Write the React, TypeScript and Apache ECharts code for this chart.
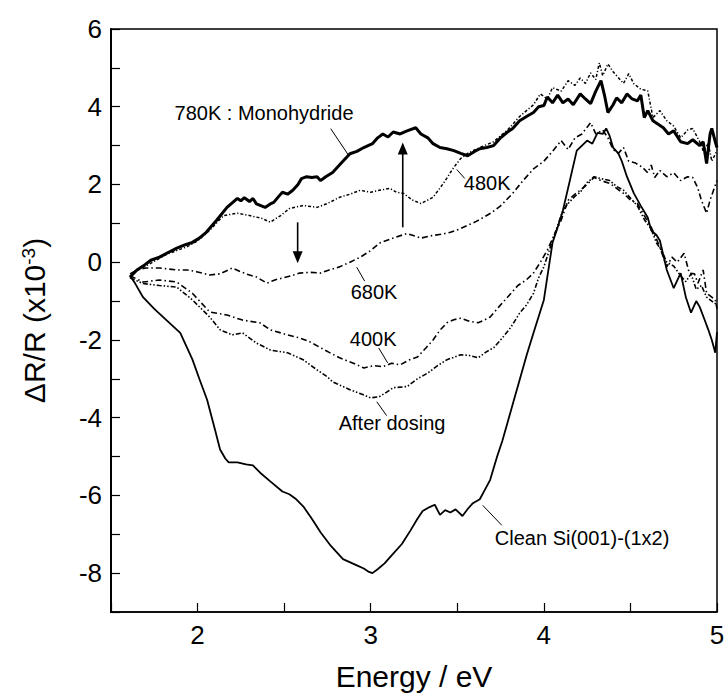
import React, { useEffect, useRef } from "react";
import * as echarts from "echarts";

const cleanSi: number[][] = [[1.61,-0.35],[1.64,-0.55],[1.685,-0.9],[1.75,-1.2],[1.82,-1.49],[1.9,-1.82],[1.97,-2.5],[2.01,-3.0],[2.055,-3.54],[2.1,-4.3],[2.13,-4.82],[2.16,-5.05],[2.18,-5.15],[2.23,-5.15],[2.28,-5.2],[2.32,-5.23],[2.37,-5.45],[2.42,-5.64],[2.49,-5.9],[2.53,-5.97],[2.57,-6.1],[2.61,-6.28],[2.66,-6.6],[2.71,-6.95],[2.77,-7.3],[2.84,-7.64],[2.92,-7.8],[2.96,-7.88],[2.99,-7.97],[3.01,-8.0],[3.04,-7.9],[3.08,-7.75],[3.13,-7.5],[3.18,-7.25],[3.23,-6.9],[3.27,-6.6],[3.3,-6.4],[3.34,-6.3],[3.37,-6.24],[3.4,-6.5],[3.43,-6.38],[3.46,-6.44],[3.49,-6.36],[3.53,-6.53],[3.56,-6.35],[3.59,-6.2],[3.63,-6.1],[3.66,-5.85],[3.69,-5.6],[3.73,-5.0],[3.76,-4.6],[3.79,-4.13],[3.83,-3.5],[3.86,-3.03],[3.9,-2.4],[3.94,-1.82],[4.0,-0.97],[4.05,0.5],[4.08,0.9],[4.11,1.33],[4.15,2.1],[4.19,2.87],[4.22,3.0],[4.25,3.13],[4.28,3.05],[4.31,3.33],[4.34,3.3],[4.36,3.44],[4.38,3.25],[4.4,2.95],[4.43,2.8],[4.45,2.6],[4.48,2.2],[4.52,1.77],[4.56,1.45],[4.6,1.15],[4.62,0.82],[4.65,0.7],[4.67,0.56],[4.71,-0.2],[4.75,-0.67],[4.79,-0.28],[4.82,-0.9],[4.85,-1.3],[4.88,-1.0],[4.9,-1.15],[4.93,-1.5],[4.95,-1.74],[4.97,-2.0],[4.99,-2.33],[5.0,-1.8]];

const mono780K: number[][] = [[1.61,-0.38],[1.65,-0.2],[1.685,-0.1],[1.73,0.05],[1.78,0.13],[1.83,0.25],[1.88,0.36],[1.93,0.45],[1.97,0.51],[2.01,0.62],[2.05,0.77],[2.11,1.08],[2.17,1.41],[2.23,1.64],[2.25,1.58],[2.27,1.66],[2.3,1.56],[2.32,1.64],[2.34,1.5],[2.39,1.41],[2.42,1.5],[2.44,1.54],[2.47,1.7],[2.49,1.8],[2.52,1.75],[2.55,1.85],[2.58,2.0],[2.6,2.15],[2.63,2.2],[2.66,2.18],[2.69,2.2],[2.71,2.1],[2.74,2.2],[2.78,2.31],[2.83,2.55],[2.88,2.79],[2.92,2.85],[2.96,2.95],[3.01,3.05],[3.04,3.2],[3.07,3.3],[3.1,3.22],[3.13,3.35],[3.17,3.3],[3.21,3.38],[3.26,3.46],[3.29,3.3],[3.33,3.2],[3.36,3.05],[3.4,2.95],[3.44,2.92],[3.48,2.87],[3.52,2.8],[3.56,2.74],[3.6,2.85],[3.63,2.92],[3.67,2.95],[3.71,3.0],[3.75,3.2],[3.79,3.35],[3.82,3.44],[3.86,3.64],[3.9,3.75],[3.94,3.85],[3.97,4.0],[4.0,4.03],[4.02,4.25],[4.05,4.1],[4.08,4.3],[4.11,4.1],[4.14,4.2],[4.17,4.05],[4.21,4.33],[4.24,4.2],[4.27,4.08],[4.3,4.4],[4.33,4.67],[4.35,4.3],[4.37,3.85],[4.4,4.05],[4.42,4.23],[4.45,4.1],[4.48,4.33],[4.51,4.2],[4.54,4.15],[4.56,4.3],[4.58,3.72],[4.6,3.9],[4.63,3.64],[4.66,3.55],[4.69,3.46],[4.72,3.3],[4.75,3.38],[4.79,3.1],[4.83,3.05],[4.86,3.15],[4.9,3.0],[4.92,3.1],[4.94,2.54],[4.96,3.3],[4.97,3.44],[4.99,3.1],[5.0,2.95]];

const anneal480K: number[][] = [[1.61,-0.4],[1.65,-0.2],[1.7,-0.1],[1.76,0.05],[1.82,0.2],[1.88,0.3],[1.94,0.4],[2.0,0.55],[2.07,0.82],[2.15,1.2],[2.23,1.26],[2.3,1.2],[2.37,1.13],[2.42,1.03],[2.48,1.2],[2.53,1.38],[2.61,1.46],[2.69,1.41],[2.75,1.51],[2.82,1.67],[2.88,1.75],[2.94,1.85],[3.0,1.8],[3.05,1.85],[3.11,1.9],[3.15,1.8],[3.19,1.77],[3.24,1.6],[3.29,1.51],[3.33,1.6],[3.36,1.67],[3.42,2.03],[3.48,2.44],[3.52,2.67],[3.56,2.8],[3.63,2.95],[3.71,3.1],[3.79,3.4],[3.86,3.75],[3.94,4.05],[3.98,4.33],[4.02,4.2],[4.05,4.49],[4.1,4.4],[4.14,4.67],[4.18,4.55],[4.21,4.74],[4.24,4.6],[4.27,4.87],[4.3,4.7],[4.32,5.13],[4.34,4.8],[4.37,5.1],[4.4,4.9],[4.42,4.8],[4.46,4.6],[4.49,4.85],[4.52,4.59],[4.56,4.45],[4.6,4.41],[4.63,3.72],[4.67,3.9],[4.71,3.64],[4.75,3.5],[4.79,3.2],[4.83,3.4],[4.86,3.44],[4.9,3.1],[4.92,2.87],[4.95,3.05],[4.97,2.6],[5.0,2.87]];

const anneal680K: number[][] = [[1.61,-0.3],[1.65,-0.2],[1.7,-0.15],[1.78,-0.15],[1.88,-0.2],[1.94,-0.2],[2.0,-0.25],[2.07,-0.33],[2.13,-0.3],[2.2,-0.15],[2.25,-0.25],[2.3,-0.33],[2.34,-0.38],[2.4,-0.54],[2.45,-0.45],[2.49,-0.41],[2.54,-0.35],[2.59,-0.28],[2.65,-0.26],[2.71,-0.28],[2.76,-0.2],[2.82,-0.12],[2.88,0.0],[2.94,0.13],[3.0,0.3],[3.05,0.49],[3.13,0.62],[3.21,0.74],[3.25,0.68],[3.29,0.62],[3.36,0.69],[3.41,0.72],[3.46,0.77],[3.51,0.85],[3.56,0.95],[3.61,1.05],[3.65,1.15],[3.7,1.28],[3.75,1.45],[3.82,1.77],[3.88,2.1],[3.94,2.4],[4.0,2.6],[4.05,2.85],[4.1,3.13],[4.14,2.9],[4.18,3.2],[4.22,3.3],[4.27,3.59],[4.3,3.3],[4.34,3.4],[4.37,3.2],[4.4,2.9],[4.43,2.8],[4.46,2.95],[4.49,2.6],[4.53,2.55],[4.57,2.44],[4.6,2.3],[4.62,2.5],[4.64,2.18],[4.67,2.36],[4.71,2.2],[4.75,2.3],[4.79,2.1],[4.83,2.2],[4.86,2.18],[4.89,1.9],[4.91,1.59],[4.94,1.26],[4.96,1.6],[4.98,1.85],[5.0,2.1]];

const anneal400K: number[][] = [[1.61,-0.35],[1.685,-0.51],[1.78,-0.46],[1.88,-0.51],[1.97,-0.8],[2.07,-1.28],[2.17,-1.36],[2.26,-1.49],[2.36,-1.56],[2.42,-1.74],[2.52,-1.87],[2.59,-1.95],[2.65,-2.05],[2.71,-2.2],[2.76,-2.32],[2.82,-2.46],[2.9,-2.6],[2.96,-2.72],[3.02,-2.66],[3.07,-2.69],[3.12,-2.6],[3.17,-2.64],[3.22,-2.52],[3.27,-2.44],[3.32,-2.2],[3.36,-2.0],[3.4,-1.75],[3.44,-1.56],[3.48,-1.48],[3.52,-1.44],[3.57,-1.52],[3.62,-1.56],[3.66,-1.48],[3.69,-1.41],[3.74,-1.15],[3.79,-0.9],[3.85,-0.6],[3.9,-0.45],[3.94,-0.28],[3.98,0.0],[4.02,0.31],[4.06,0.7],[4.1,1.08],[4.14,1.59],[4.18,1.75],[4.21,1.85],[4.25,2.0],[4.29,2.18],[4.33,2.1],[4.38,2.03],[4.42,1.9],[4.46,1.77],[4.5,1.6],[4.54,1.51],[4.58,1.2],[4.62,0.9],[4.65,0.6],[4.67,0.38],[4.71,-0.12],[4.74,0.13],[4.77,0.0],[4.81,0.23],[4.84,-0.28],[4.87,-0.3],[4.89,-0.54],[4.92,-0.2],[4.94,-0.8],[4.97,-0.9],[4.99,-0.97],[5.0,-1.2]];

const afterDosing: number[][] = [[1.61,-0.4],[1.685,-0.55],[1.78,-0.6],[1.88,-0.64],[1.97,-0.97],[2.07,-1.41],[2.13,-1.74],[2.2,-1.87],[2.26,-1.82],[2.34,-2.08],[2.42,-2.26],[2.52,-2.33],[2.61,-2.51],[2.69,-2.77],[2.75,-2.95],[2.78,-3.08],[2.88,-3.28],[2.95,-3.4],[3.0,-3.49],[3.05,-3.46],[3.09,-3.35],[3.13,-3.23],[3.21,-3.2],[3.27,-3.0],[3.33,-2.85],[3.39,-2.65],[3.44,-2.51],[3.52,-2.38],[3.57,-2.4],[3.62,-2.46],[3.67,-2.3],[3.71,-2.2],[3.76,-1.95],[3.81,-1.67],[3.86,-1.31],[3.9,-1.1],[3.94,-0.8],[3.97,-0.4],[4.0,-0.12],[4.05,0.56],[4.08,0.95],[4.11,1.33],[4.14,1.51],[4.18,1.7],[4.21,1.8],[4.25,2.05],[4.29,2.2],[4.33,2.15],[4.38,2.1],[4.42,1.95],[4.46,1.85],[4.5,1.65],[4.54,1.45],[4.58,1.1],[4.62,0.85],[4.65,0.5],[4.68,0.3],[4.71,0.0],[4.75,-0.1],[4.79,-0.35],[4.82,-0.5],[4.85,-0.3],[4.88,-0.7],[4.91,-0.6],[4.94,-0.9],[4.97,-1.0],[5.0,-1.1]];

const xTickLabels = ["2", "3", "4", "5"];
const yTickLabels = ["-8", "-6", "-4", "-2", "0", "2", "4", "6"];

// annotation texts: [label, E, value] (left-middle anchor, data coords)
const labels: [string, number, number][] = [
  ["780K : Monohydride", 1.867, 3.85],
  ["480K", 3.538, 2.05],
  ["680K", 2.884, -0.77],
  ["400K", 2.879, -1.97],
  ["After dosing", 2.815, -4.13],
  ["Clean Si(001)-(1x2)", 3.717, -7.1],
];
// leader lines: [E1, v1, E2, v2]
const leaders: number[][] = [
  [2.769, 3.436, 2.873, 2.744],
  [3.497, 2.385, 3.543, 2.154],
  [2.919, -0.128, 2.965, -0.487],
  [3.046, -2.205, 3.098, -2.59],
  [3.035, -3.59, 3.092, -3.949],
  [3.647, -6.256, 3.757, -6.769],
];
// arrows: [E, vFrom, vTip]
const arrows: number[][] = [
  [2.578, 1.026, -0.026],
  [3.185, 0.897, 3.077],
];

const FONT = "'Liberation Sans', Arial, Helvetica, sans-serif";

export default function App() {
  const ref = useRef<HTMLDivElement>(null);
  useEffect(() => {
    if (!ref.current) return;
    const chart = echarts.init(ref.current, undefined, { renderer: "svg" });
    const mk = (name: string, data: number[][], width: number, type: any) => ({
      name,
      type: "line",
      data,
      showSymbol: false,
      symbol: "none",
      smooth: false,
      lineStyle: { color: "#000", width, type },
      z: 3,
    });
    chart.setOption({
      animation: false,
      backgroundColor: "#fff",
      grid: { left: 111, right: 11, top: 29, bottom: 83, show: true, borderColor: "#000", borderWidth: 1.5, containLabel: false },
      xAxis: {
        type: "value",
        min: 1.5,
        max: 5,
        interval: 0.5,
        name: "Energy / eV",
        nameLocation: "middle",
        nameGap: 49,
        nameTextStyle: { fontFamily: FONT, fontSize: 30, color: "#000" },
        axisLine: { show: true, onZero: false, lineStyle: { color: "#000", width: 1.5 } },
        axisTick: { show: true, inside: true, length: 9, lineStyle: { color: "#000", width: 1.2 } },
        axisLabel: {
          fontFamily: FONT, fontSize: 26, color: "#000", margin: 10,
          formatter: (v: number) => (xTickLabels.includes(String(v)) ? String(v) : ""),
        },
        splitLine: { show: false },
      },
      yAxis: {
        type: "value",
        min: -9,
        max: 6,
        interval: 1,
        axisLine: { show: true, onZero: false, lineStyle: { color: "#000", width: 2 } },
        axisTick: { show: true, inside: true, length: 9, lineStyle: { color: "#000", width: 1.2 } },
        axisLabel: {
          fontFamily: FONT, fontSize: 26, color: "#000", margin: 9,
          formatter: (v: number) => (yTickLabels.includes(String(v)) ? String(v) : ""),
        },
        splitLine: { show: false },
      },
      series: [
        mk("Clean Si(001)-(1x2)", cleanSi, 1.8, "solid"),
        mk("After dosing", afterDosing, 1.6, [5, 2, 1.5, 2, 1.5, 2]),
        mk("400K", anneal400K, 1.6, [6, 3, 1.5, 3]),
        mk("480K", anneal480K, 1.5, [3, 2, 1.2, 2]),
        mk("680K", anneal680K, 1.6, [6, 3, 1.5, 3]),
        mk("780K : Monohydride", mono780K, 3, "solid"),
      ],
    });

    const px = (e: number, v: number) => chart.convertToPixel({ gridIndex: 0 }, [e, v]) as number[];
    const g: any[] = [];
    const mid = px(1.5, -1.5);
    g.push({
      type: "text", x: 34, y: mid[1], rotation: Math.PI / 2, z: 10,
      style: {
        text: "ΔR/R (x10{sup|-3})", fill: "#000", fontFamily: FONT, fontSize: 30,
        align: "center", verticalAlign: "middle",
        rich: { sup: { fontFamily: FONT, fontSize: 19, fill: "#000", verticalAlign: "top", padding: [0, 0, 12, 0] } },
      },
    });
    labels.forEach(([t, e, v]) => {
      const p = px(e, v);
      g.push({ type: "text", x: p[0], y: p[1], z: 10, style: { text: t, fill: "#000", fontFamily: FONT, fontSize: 20, align: "left", verticalAlign: "middle" } });
    });
    leaders.forEach(([e1, v1, e2, v2]) => {
      const a = px(e1, v1), b = px(e2, v2);
      g.push({ type: "line", z: 10, shape: { x1: a[0], y1: a[1], x2: b[0], y2: b[1] }, style: { stroke: "#000", lineWidth: 1 } });
    });
    arrows.forEach(([e, v0, v1]) => {
      const a = px(e, v0), b = px(e, v1);
      const dir = b[1] > a[1] ? 1 : -1;
      const hl = 12, hw = 5;
      g.push({ type: "line", z: 10, shape: { x1: a[0], y1: a[1], x2: b[0], y2: b[1] - dir * hl * 0.6 }, style: { stroke: "#000", lineWidth: 1.6 } });
      g.push({ type: "polygon", z: 10, shape: { points: [[b[0], b[1]], [b[0] - hw, b[1] - dir * hl], [b[0] + hw, b[1] - dir * hl]] }, style: { fill: "#000" } });
    });
    chart.setOption({ graphic: g });

    return () => chart.dispose();
  }, []);
  return <div ref={ref} style={{ position: "fixed", left: 0, top: 0, width: 728, height: 696, background: "#fff" }} />;
}
